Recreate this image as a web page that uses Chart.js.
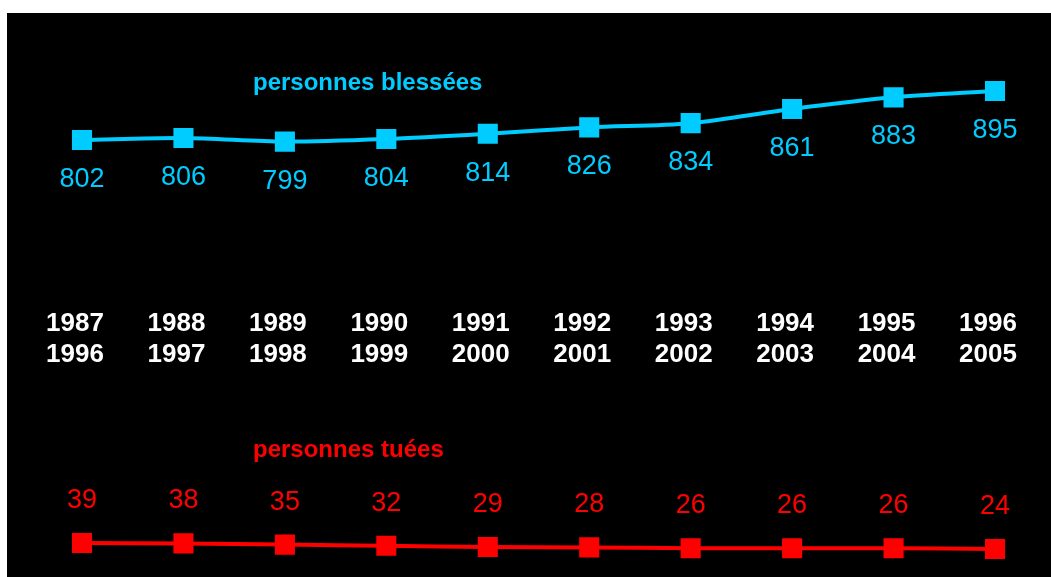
<!DOCTYPE html>
<html lang="fr">
<head>
  <meta charset="UTF-8"/>
  <title>Personnes blessées / tuées</title>
  <script src="https://cdn.jsdelivr.net/npm/chart.js"></script>
  <style>
    html, body { margin: 0; padding: 0; background: #ffffff; }
    .chart-box { position: absolute; left: 7px; top: 13px; width: 1044px; height: 564px; background: #000000; }
  </style>
</head>
<body>

<div class="chart-box">
  <canvas id="accidents"></canvas>
</div>

<script>
const periods = [
  ['1987', '1996'], ['1988', '1997'], ['1989', '1998'], ['1990', '1999'], ['1991', '2000'],
  ['1992', '2001'], ['1993', '2002'], ['1994', '2003'], ['1995', '2004'], ['1996', '2005']
];
const blesses = [802, 806, 799, 804, 814, 826, 834, 861, 883, 895];
const tues = [39, 38, 35, 32, 29, 28, 26, 26, 26, 24];
const titreBlesses = 'personnes blessées';
const titreTues = 'personnes tuées';

const BLUE = '#00ccff';
const RED = '#ff0000';

// values written next to each marker, plus the two series captions
const valueLabels = {
  id: 'valueLabels',
  afterDatasetsDraw(chart) {
    const ctx = chart.ctx;
    ctx.save();
    ctx.textAlign = 'center';
    ctx.textBaseline = 'alphabetic';
    ctx.font = '27px "Liberation Sans", Arial, sans-serif';
    chart.data.datasets.forEach((ds, i) => {
      const meta = chart.getDatasetMeta(i);
      ctx.fillStyle = ds.borderColor;
      meta.data.forEach((pt, j) => {
        ctx.fillText(String(ds.data[j]), pt.x, pt.y + ds.labelOffset);
      });
    });
    ctx.textAlign = 'left';
    ctx.font = 'bold 24px "Liberation Sans", Arial, sans-serif';
    ctx.fillStyle = BLUE;
    ctx.fillText(titreBlesses, 246, 77);
    ctx.fillStyle = RED;
    ctx.fillText(titreTues, 246, 444);
    ctx.restore();
  }
};

new Chart(document.getElementById('accidents'), {
  type: 'line',
  data: {
    labels: periods,
    datasets: [
      {
        label: titreBlesses,
        data: blesses,
        yAxisID: 'y',
        borderColor: BLUE,
        backgroundColor: BLUE,
        borderWidth: 4,
        tension: 0.3,
        pointStyle: 'rect',
        pointRadius: 14.2,
        pointBorderWidth: 0,
        labelOffset: 47
      },
      {
        label: titreTues,
        data: tues,
        yAxisID: 'y2',
        borderColor: RED,
        backgroundColor: RED,
        borderWidth: 4,
        tension: 0.3,
        pointStyle: 'rect',
        pointRadius: 14.2,
        pointBorderWidth: 0,
        labelOffset: -35
      }
    ]
  },
  options: {
    responsive: true,
    maintainAspectRatio: false,
    animation: false,
    layout: { autoPadding: false, padding: { left: 75, right: 56, top: 0, bottom: 0 } },
    plugins: {
      legend: { display: false },
      tooltip: { enabled: false }
    },
    scales: {
      x: {
        position: { y: 508 },
        grid: { display: false, drawTicks: false },
        border: { display: false },
        ticks: {
          color: '#ffffff',
          padding: 14,
          labelOffset: -7,
          maxRotation: 0,
          autoSkip: false,
          font: { family: '"Liberation Sans", Arial, sans-serif', size: 26, weight: 'bold', lineHeight: 1.17 }
        }
      },
      y: { display: false, min: -27, max: 1043 },
      y2: { display: false, min: -46, max: 1364 }
    }
  },
  plugins: [valueLabels]
});
</script>
</body>
</html>
